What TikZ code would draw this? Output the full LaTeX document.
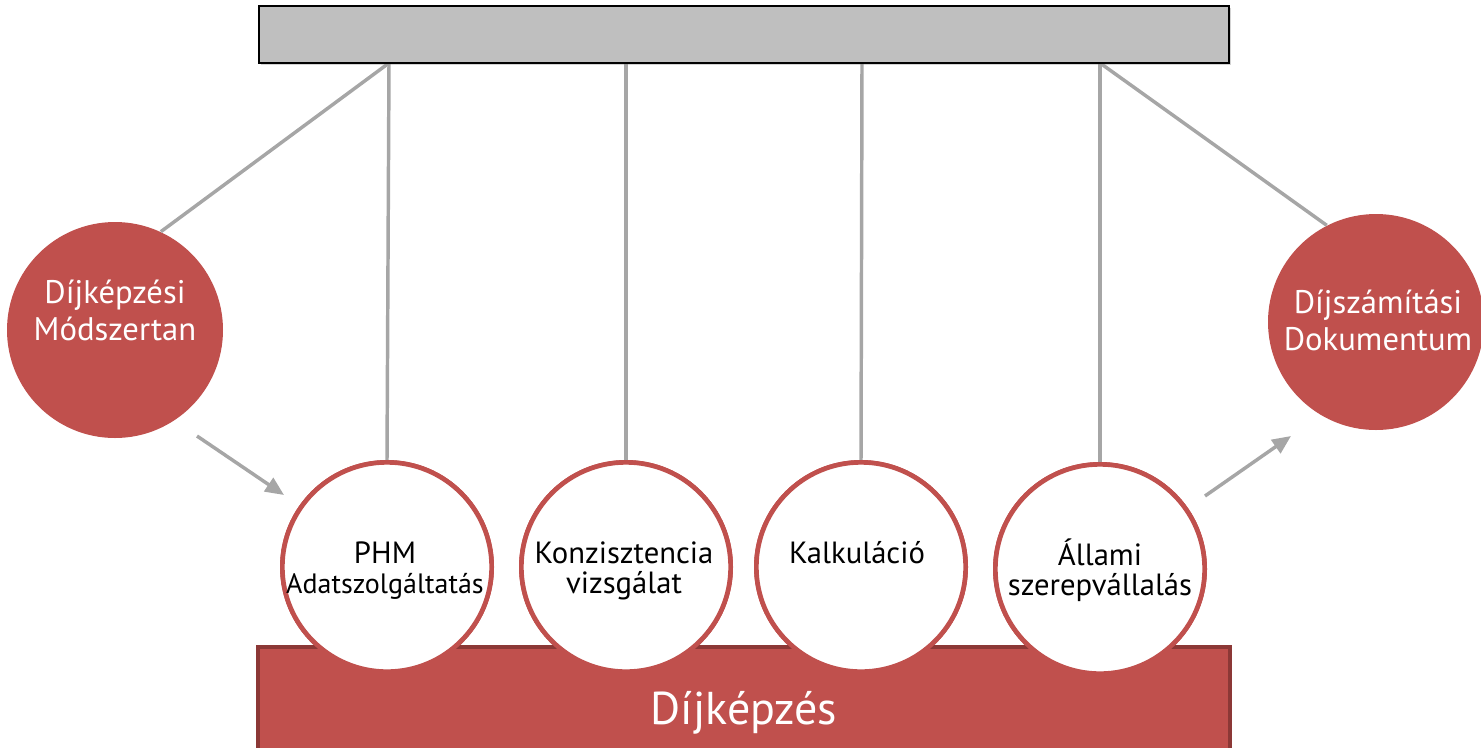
\documentclass[tikz,border=0pt]{standalone}
\usepackage{fontspec}
\setmainfont{PT Sans}
\usetikzlibrary{shadows,arrows.meta}

\definecolor{dkred}{RGB}{192,80,77}
\definecolor{dkredline}{RGB}{140,56,54}
\definecolor{rodgray}{RGB}{166,166,166}
\definecolor{barfill}{RGB}{191,191,191}

\newcommand{\ballfont}{\fontsize{23}{22.5}\selectfont}
\newcommand{\sidefont}{\fontsize{24.5}{27.75}\selectfont}

\tikzset{every picture/.style={line width=0.75pt},
  rod/.style={draw=rodgray, line width=2.6pt},
  flow/.style={draw=rodgray, line width=2.6pt, -{Triangle[length=14pt,width=12pt]}},
  topbar/.style={draw=black, line width=1.5pt, fill=barfill, minimum width=727.5pt, minimum height=42.75pt, inner sep=0,
    drop shadow={shadow xshift=1.5pt, shadow yshift=-1.5pt, opacity=0.35}},
  basebar/.style={draw=dkredline, line width=3pt, fill=dkred},
  ball/.style={circle, draw=dkred, line width=3.5pt, fill=white, minimum size=157pt, inner sep=0},
  sideball/.style={circle, fill=dkred, minimum size=162pt, inner sep=0},
  balltext/.style={anchor=north, inner sep=0, align=center, execute at begin node=\strut},
}

\begin{document}
\begin{tikzpicture}[x=0.75pt,y=0.75pt,yscale=-1,xscale=1]
	\path[use as bounding box] (0,0) rectangle (1481,747);

	%Shape: Circle (side balls)
	\node[sideball] (ML) at (115,330) {};
	\node[sideball] (MR) at (1376,322) {};

	%Hooks under the bar
	\coordinate (h1) at (389,63);
	\coordinate (h2) at (626,63);
	\coordinate (h3) at (862,63);
	\coordinate (h4) at (1100,63);

	%Shape: Circle (balls)
	\node[ball] (c1) at (387,567) {};
	\node[ball] (c2) at (626,567) {};
	\node[ball] (c3) at (861,567) {};
	\node[ball] (c4) at (1100,569) {};

	%Straight Lines (strings)
	\draw[rod] (h1) -- (c1.north);
	\draw[rod] (h2) -- (c2.north);
	\draw[rod] (h3) -- (c3.north);
	\draw[rod] (h4) -- (c4.north);
	\draw[rod] (h1) -- (ML.65);
	\draw[rod] (h4) -- (MR.117);

	%Shape: Rectangle (bar)
	\node[topbar] (bar) at (744,34.5) {};

	%Shape: Rectangle (base)
	\draw[basebar] (258,647) rectangle (1230,752);
	\node[text=white, font=\fontsize{34.5}{38}\selectfont] (base) at (744,713) {Díjképzés};

	%Balls again on top of the base
	\node[ball] at (c1) {};
	\node[ball] at (c2) {};
	\node[ball] at (c3) {};
	\node[ball] at (c4) {};

	%Arrows
	\coordinate (a1s) at (197,436);
	\coordinate (a1e) at (284,495);
	\coordinate (a2s) at (1205,496);
	\coordinate (a2e) at (1291,436);
	\draw[flow] (a1s) -- (a1e);
	\draw[flow] (a2s) -- (a2e);

	% Text Node
	\node[balltext, text=white, font=\sidefont] (tL) at (115,279) {Díjképzési\\Módszertan};
	% Text Node
	\node[balltext, text=white, font=\sidefont] (tR) at (1378,289) {Díjszámítási\\Dokumentum};
	% Text Node
	\node[balltext, font=\ballfont] (t1) at (385,541) {PHM\\{\fontsize{21}{22.5}\selectfont Adatszolgáltatás}};
	% Text Node
	\node[balltext, font=\ballfont] (t2) at (624,541) {Konzisztencia\\vizsgálat};
	% Text Node
	\node[balltext, font=\ballfont] (t3) at (857,541) {Kalkuláció};
	% Text Node
	\node[balltext, font=\ballfont] (t4) at (1100,538) {Állami\\szerepvállalás};

\end{tikzpicture}
\end{document}
